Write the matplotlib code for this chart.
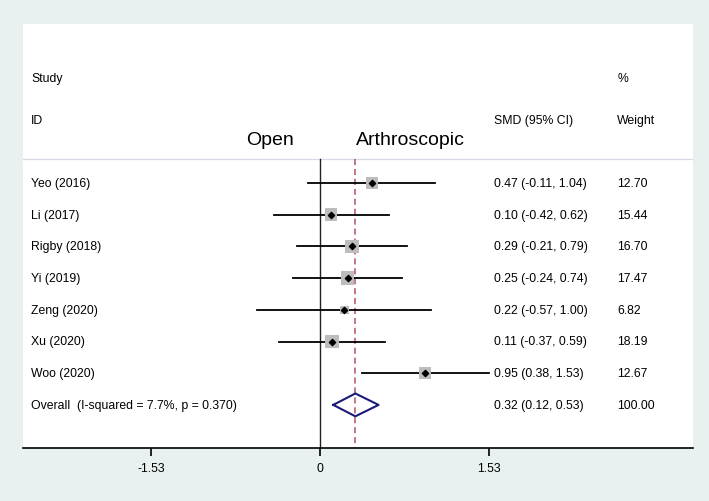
import matplotlib
matplotlib.use("Agg")
import matplotlib.pyplot as plt
import numpy as np

studies = ["Yeo (2016)", "Li (2017)", "Rigby (2018)", "Yi (2019)",
           "Zeng (2020)", "Xu (2020)", "Woo (2020)"]
smd = [0.47, 0.10, 0.29, 0.25, 0.22, 0.11, 0.95]
ci_lo = [-0.11, -0.42, -0.21, -0.24, -0.57, -0.37, 0.38]
ci_hi = [1.04, 0.62, 0.79, 0.74, 1.00, 0.59, 1.53]
weights = [12.70, 15.44, 16.70, 17.47, 6.82, 18.19, 12.67]
overall_label = "Overall  (I-squared = 7.7%, p = 0.370)"
overall_smd = 0.32
overall_lo = 0.12
overall_hi = 0.53
overall_weight = 100.00
xticks = [-1.53, 0, 1.53]
xtick_labels = ["-1.53", "0", "1.53"]

plt.rcParams['font.family'] = ['Liberation Sans', 'DejaVu Sans']

W, H = 709, 502
fig = plt.figure(figsize=(W / 100, H / 100), dpi=100)
fig.patch.set_facecolor('#E8F1F0')

L, R, T, B = 23, 693, 25, 449
ax = fig.add_axes([L / W, 1 - B / H, (R - L) / W, (B - T) / H])
ax.set_facecolor('white')

px_per_unit = 110.5
x0 = 320
ax.set_xlim((L - x0) / px_per_unit, (R - x0) / px_per_unit)
row_h = 31.7
y0 = 184
ax.set_ylim((B - y0) / row_h, (T - y0) / row_h)

for s in ['top', 'right', 'left']:
    ax.spines[s].set_visible(False)
ax.spines['bottom'].set_linewidth(1.2)
ax.set_yticks([])
ax.set_xticks(xticks)
ax.set_xticklabels(xtick_labels, fontsize=8.8)
ax.tick_params(axis='x', direction='out', length=6, width=1.2, pad=4)

ymax_lines = (B - y0) / row_h
header_line = -0.76

# header separator
ax.plot(ax.get_xlim(), [header_line, header_line], color='#D8D8E6', lw=0.9, zorder=1)

# zero line and overall line
ax.plot([0, 0], [header_line, ymax_lines], color='#222222', lw=1.0, zorder=2)
ax.plot([overall_smd, overall_smd], [header_line, ymax_lines], color='#B25462',
        lw=1.1, dashes=(4, 2.5), zorder=2)

n = len(studies)
ys = np.arange(n)
for i in range(n):
    ax.plot([ci_lo[i], ci_hi[i]], [ys[i], ys[i]], color='black', lw=1.3, zorder=3)
ax.scatter(smd, ys, s=np.array(weights) * 5.5, marker='s', color='#BDBDBD',
           edgecolors='none', zorder=4)
ax.scatter(smd, ys, s=10, marker='D', color='black', zorder=5)

# overall diamond
yo = n
dh = 0.36
ax.plot([overall_lo, overall_smd, overall_hi, overall_smd, overall_lo],
        [yo, yo - dh, yo, yo + dh, yo], color='#1A1A7A', lw=1.5, zorder=5)

# texts
fs = 8.8
tx_study = 0.012
tx_smd = 0.703
tx_w = 0.887
trans = ax.get_yaxis_transform()
ax.text(tx_study, -3.31, "Study", transform=trans, fontsize=fs, va='center')
ax.text(tx_study, -1.99, "ID", transform=trans, fontsize=fs, va='center')
ax.text(tx_w, -3.31, "%", transform=trans, fontsize=fs, va='center')
ax.text(tx_w, -1.99, "Weight", transform=trans, fontsize=fs, va='center')
ax.text(tx_smd, -1.99, "SMD (95% CI)", transform=trans, fontsize=fs, va='center')
ax.text(0.369, -1.36, "Open", transform=trans, fontsize=14, va='center', ha='center')
ax.text(0.578, -1.36, "Arthroscopic", transform=trans, fontsize=14, va='center', ha='center')

for i in range(n):
    ax.text(tx_study, ys[i], studies[i], transform=trans, fontsize=fs, va='center')
    ax.text(tx_smd, ys[i], f"{smd[i]:.2f} ({ci_lo[i]:.2f}, {ci_hi[i]:.2f})",
            transform=trans, fontsize=fs, va='center')
    ax.text(tx_w, ys[i], f"{weights[i]:.2f}", transform=trans, fontsize=fs, va='center')

ax.text(tx_study, yo, overall_label, transform=trans, fontsize=fs, va='center')
ax.text(tx_smd, yo, f"{overall_smd:.2f} ({overall_lo:.2f}, {overall_hi:.2f})",
        transform=trans, fontsize=fs, va='center')
ax.text(tx_w, yo, f"{overall_weight:.2f}", transform=trans, fontsize=fs, va='center')

fig.savefig("out.png", dpi=100, facecolor=fig.get_facecolor())
